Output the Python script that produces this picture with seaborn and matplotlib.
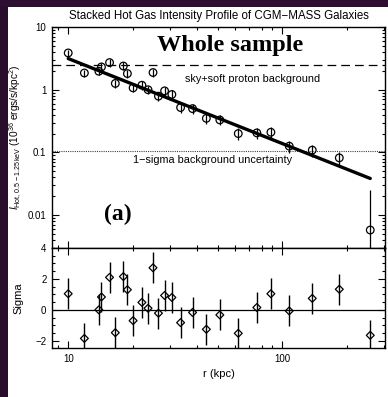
import numpy as np
import pandas as pd
import seaborn as sns
import matplotlib
matplotlib.use("Agg")
import matplotlib.pyplot as plt
from matplotlib.ticker import FixedLocator, FixedFormatter, LogLocator, MultipleLocator, NullFormatter
from matplotlib.patches import Rectangle

# Stacked radial profile (r in kpc)
radius_kpc = [10.0, 11.9, 13.9, 14.3, 15.6, 16.6, 18.1, 18.9, 20.1, 22.1, 23.6, 24.9, 26.4,
              28.2, 30.5, 33.5, 38.1, 44.2, 51.1, 62.3, 76.1, 88.5, 107.8, 138.1, 184.7, 257.7]
intensity = [3.86, 1.85, 1.97, 2.31, 2.71, 1.26, 2.39, 1.81, 1.07, 1.18, 1.00, 1.88, 0.79,
             0.96, 0.84, 0.52, 0.50, 0.35, 0.33, 0.20, 0.205, 0.21, 0.126, 0.109, 0.082, 0.0058]
intensity_err_lo = [0.50, 0.25, 0.27, 0.32, 0.38, 0.18, 0.34, 0.26, 0.16, 0.18, 0.15, 0.28, 0.13,
                    0.16, 0.14, 0.09, 0.09, 0.065, 0.06, 0.042, 0.044, 0.045, 0.028, 0.024, 0.02, 0.0055]
intensity_err_hi = [0.50, 0.25, 0.27, 0.32, 0.38, 0.18, 0.34, 0.26, 0.16, 0.18, 0.15, 0.28, 0.13,
                    0.16, 0.14, 0.09, 0.09, 0.065, 0.06, 0.042, 0.044, 0.045, 0.028, 0.024, 0.02, 0.019]
sigma = [1.04, -1.85, 0.0, 0.83, 2.1, -1.48, 2.15, 1.3, -0.7, 0.48, 0.1, 2.72, -0.22,
         0.93, 0.8, -0.83, -0.17, -1.26, -0.33, -1.52, 0.15, 1.04, -0.07, 0.74, 1.33, -1.65]
sigma_err = [1.0] * 26

# Power-law model end points and reference levels
fit_r = [10.0, 257.7]
fit_i = [3.14, 0.0385]
sky_level = 2.45
bg_uncertainty = 0.107

x_ticks = [10, 100]
x_tick_labels = ["10", "100"]
i_ticks = [0.01, 0.1, 1, 10]
i_tick_labels = ["0.01", "0.1", "1", "10"]
s_ticks = [-2, 0, 2, 4]
s_tick_labels = ["\u22122", "0", "2", "4"]

profile = pd.DataFrame({"r": radius_kpc, "I": intensity, "sigma": sigma})
fit = pd.DataFrame({"r": fit_r, "I": fit_i})

sns.set_theme(style="ticks")
plt.rcParams["font.family"] = ["Liberation Sans", "DejaVu Sans"]
plt.rcParams["mathtext.fontset"] = "custom"
plt.rcParams["mathtext.rm"] = "Liberation Sans"
plt.rcParams["mathtext.it"] = "Liberation Sans:italic"
for key in ("text.color", "axes.labelcolor", "xtick.color", "ytick.color", "axes.edgecolor"):
    plt.rcParams[key] = "black"

fig = plt.figure(figsize=(3.88, 3.97), dpi=100, facecolor="white")
# dark slide border
fig.patches.append(Rectangle((0, 0), 8 / 388, 1, transform=fig.transFigure,
                             facecolor="#2a0c2c", edgecolor="none", zorder=-10))
fig.patches.append(Rectangle((0, 1 - 7 / 397), 1, 7 / 397, transform=fig.transFigure,
                             facecolor="#2e0f31", edgecolor="none", zorder=-10))

L, R = 52 / 388, 385 / 388
ax1 = fig.add_axes([L, 1 - 248 / 397, R - L, (248 - 27) / 397])
ax2 = fig.add_axes([L, 1 - 348 / 397, R - L, (348 - 248) / 397], sharex=ax1)

# ---- top panel: intensity profile
ax1.set_xscale("log")
ax1.set_yscale("log")
ax1.errorbar(radius_kpc, intensity, yerr=[intensity_err_lo, intensity_err_hi],
             fmt="none", ecolor="black", elinewidth=0.9, capsize=0, zorder=3)
sns.scatterplot(data=profile, x="r", y="I", ax=ax1, marker="o", s=30,
                color="black", linewidth=0.9, zorder=4, legend=False)
ax1.collections[-1].set_facecolor("none")
ax1.collections[-1].set_edgecolor("black")
sns.lineplot(data=fit, x="r", y="I", ax=ax1, color="black", linewidth=2.4, zorder=5)
ax1.axhline(sky_level, color="black", linestyle=(0, (7, 4)), linewidth=0.9, zorder=2)
ax1.axhline(bg_uncertainty, color="#444444", linestyle=(0, (1, 1)), linewidth=0.8, zorder=2)

ax1.text(73, sky_level * 0.74, "sky+soft proton background", ha="center", va="top", fontsize=7.8)
ax1.text(47.5, bg_uncertainty * 0.85, "1\u2212sigma background uncertainty", ha="center", va="top",
         fontsize=7.8)
ax1.text(0.535, 0.915, "Whole sample", transform=ax1.transAxes, ha="center", va="center",
         fontsize=17.5, fontweight="bold", family="Liberation Serif")
ax1.text(0.198, 0.15, "(a)", transform=ax1.transAxes, ha="center", va="center",
         fontsize=17, fontweight="bold", family="Liberation Serif")

ax1.set_xlim(8.4, 302)
ax1.set_ylim(0.003, 10)
ax1.yaxis.set_major_locator(FixedLocator(i_ticks))
ax1.yaxis.set_major_formatter(FixedFormatter(i_tick_labels))
ax1.yaxis.set_minor_locator(LogLocator(base=10, subs=np.arange(2, 10)))
ax1.yaxis.set_minor_formatter(NullFormatter())
ax1.set_ylabel(r"$I_{\rm Hot,\,0.5-1.25\,keV}$ (10$^{36}$ ergs/s/kpc$^2$)", fontsize=7.3)
ax1.yaxis.set_label_coords(-0.085, 0.5)
ax1.set_xlabel("")
ax1.tick_params(axis="x", which="both", labelbottom=False)

# ---- bottom panel: residuals
ax2.axhline(0, color="black", linewidth=0.9, zorder=2)
ax2.errorbar(radius_kpc, sigma, yerr=sigma_err, fmt="none", ecolor="black",
             elinewidth=1.0, capsize=0, zorder=3)
sns.scatterplot(data=profile, x="r", y="sigma", ax=ax2, marker="D", s=16,
                color="black", linewidth=0.9, zorder=4, legend=False)
ax2.collections[-1].set_facecolor("none")
ax2.collections[-1].set_edgecolor("black")
ax2.set_ylim(-2.47, 4)
ax2.yaxis.set_major_locator(FixedLocator(s_ticks))
ax2.yaxis.set_major_formatter(FixedFormatter(s_tick_labels))
ax2.yaxis.set_minor_locator(MultipleLocator(0.5))
ax2.xaxis.set_major_locator(FixedLocator(x_ticks))
ax2.xaxis.set_major_formatter(FixedFormatter(x_tick_labels))
ax2.xaxis.set_minor_locator(LogLocator(base=10, subs=np.arange(2, 10)))
ax2.xaxis.set_minor_formatter(NullFormatter())
ax2.set_xlabel("r (kpc)", fontsize=8, labelpad=4)
ax2.set_ylabel("Sigma", fontsize=8)
ax2.yaxis.set_label_coords(-0.085, 0.5)

for ax in (ax1, ax2):
    ax.tick_params(which="both", direction="in", top=True, right=True, colors="black",
                   labelsize=7, width=0.8)
    ax.tick_params(which="major", length=5, pad=4)
    ax.tick_params(which="minor", length=2.5)
    for sp in ax.spines.values():
        sp.set_linewidth(1.0)
        sp.set_color("black")
    ax.set_facecolor("white")

ax1.set_title("Stacked Hot Gas Intensity Profile of CGM\u2212MASS Galaxies", fontsize=8.3, pad=6)

fig.savefig("out.png", dpi=100, facecolor=fig.get_facecolor())
